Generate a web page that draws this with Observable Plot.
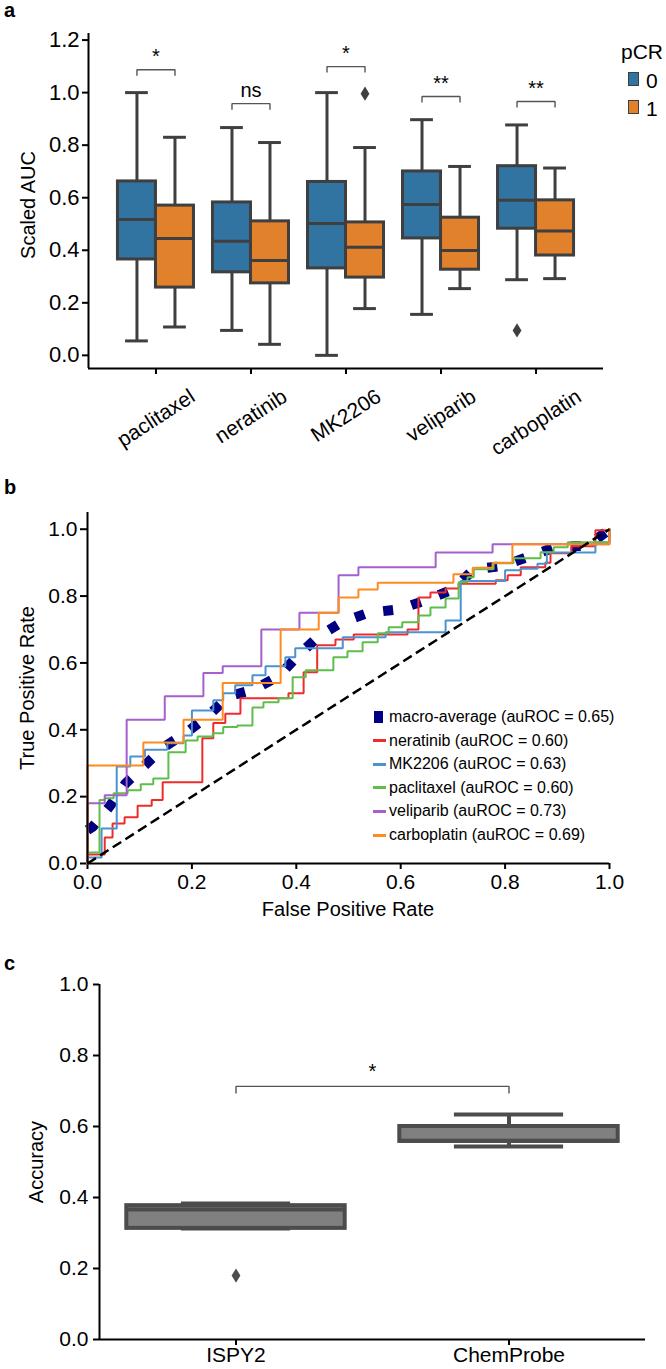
<!DOCTYPE html>
<html><head><meta charset="utf-8">
<script src="https://cdn.jsdelivr.net/npm/d3@7"></script>
<script src="https://cdn.jsdelivr.net/npm/@observablehq/plot@0.6"></script>
<style>
html,body{margin:0;padding:0;background:#fff;}
#root{position:relative;width:666px;height:1369px;overflow:hidden;font-family:"Liberation Sans",Arial,Helvetica,sans-serif;color:#000;background:#fff;}
.abs{position:absolute;white-space:nowrap;line-height:1;}
.panel{position:absolute;left:0;}
.panel svg{overflow:visible;}
.panel [aria-label^="x-axis"] line,.panel [aria-label^="y-axis"] line,.panel [aria-label^="x-axis"] path,.panel [aria-label^="y-axis"] path{stroke-width:2px;stroke:#000;}
</style></head><body><div id="root"></div>
<script>
// ---------- Panel a data ----------
const drugs = ["paclitaxel", "neratinib", "MK2206", "veliparib", "carboplatin"];
const pcrGroups = ["0", "1"];
const pcrColors = ["#3274a1", "#e1812c"];
const p0Low  = [0.055, 0.095, 0.000, 0.156, 0.288];
const p0Q1   = [0.365, 0.316, 0.331, 0.445, 0.482];
const p0Med  = [0.517, 0.434, 0.502, 0.574, 0.590];
const p0Q3   = [0.662, 0.582, 0.660, 0.700, 0.720];
const p0High = [1.000, 0.867, 1.000, 0.897, 0.877];
const p1Low  = [0.108, 0.042, 0.178, 0.254, 0.292];
const p1Q1   = [0.258, 0.274, 0.296, 0.326, 0.380];
const p1Med  = [0.445, 0.361, 0.411, 0.399, 0.473];
const p1Q3   = [0.570, 0.510, 0.506, 0.524, 0.590];
const p1High = [0.830, 0.810, 0.791, 0.719, 0.713];
const outlierDrug  = ["MK2206", "carboplatin"];
const outlierGroup = ["1", "0"];
const outlierValue = [0.996, 0.095];
const sigLabels  = ["*", "ns", "*", "**", "**"];
const sigHeights = [1.087, 0.958, 1.099, 0.985, 0.966];

// ---------- Panel b data ----------
const rocNames  = ["neratinib", "MK2206", "paclitaxel", "veliparib", "carboplatin"];
const rocAuc    = [0.60, 0.63, 0.60, 0.73, 0.69];
const rocColors = ["#ee2c2c", "#4b92d0", "#5dbf4a", "#a65fcc", "#ff8b1f"];
const macroAuc  = 0.65;
const macroFpr = [0, 0.01, 0.042, 0.073, 0.107, 0.148, 0.188, 0.23, 0.27, 0.318, 0.366, 0.402, 0.443, 0.485, 0.538, 0.596, 0.653, 0.70, 0.74, 0.795, 0.849, 0.902, 0.958, 1.0];
const macroTpr = [0.10, 0.11, 0.17, 0.24, 0.29, 0.35, 0.39, 0.44, 0.50, 0.52, 0.56, 0.62, 0.68, 0.72, 0.75, 0.76, 0.79, 0.82, 0.88, 0.89, 0.92, 0.95, 0.95, 1.0];
const neratinibFpr = [0, 0, 0.033, 0.048, 0.071, 0.096, 0.123, 0.144, 0.22, 0.241, 0.264, 0.293, 0.385, 0.414, 0.44, 0.475, 0.51, 0.613, 0.634, 0.657, 0.686, 0.711, 0.782, 0.805, 0.83, 0.877, 0.887, 0.927, 0.973, 1];
const neratinibTpr = [0, 0.027, 0.078, 0.12, 0.138, 0.173, 0.19, 0.243, 0.375, 0.42, 0.448, 0.494, 0.509, 0.572, 0.653, 0.67, 0.685, 0.70, 0.796, 0.811, 0.823, 0.837, 0.847, 0.862, 0.886, 0.90, 0.928, 0.949, 0.997, 1];
const mk2206Fpr = [0, 0, 0.027, 0.056, 0.082, 0.11, 0.153, 0.184, 0.20, 0.241, 0.26, 0.283, 0.316, 0.341, 0.379, 0.398, 0.489, 0.571, 0.686, 0.715, 0.80, 0.83, 0.862, 0.88, 0.973, 1];
const mk2206Tpr = [0, 0.018, 0.105, 0.29, 0.32, 0.34, 0.36, 0.383, 0.458, 0.488, 0.509, 0.533, 0.563, 0.59, 0.617, 0.644, 0.677, 0.692, 0.727, 0.845, 0.877, 0.882, 0.897, 0.93, 0.96, 1];
const paclitaxelFpr = [0, 0, 0.023, 0.033, 0.05, 0.077, 0.102, 0.126, 0.155, 0.188, 0.211, 0.24, 0.26, 0.287, 0.316, 0.337, 0.366, 0.393, 0.418, 0.471, 0.498, 0.527, 0.556, 0.577, 0.603, 0.634, 0.657, 0.686, 0.711, 0.728, 0.74, 0.778, 0.816, 0.868, 0.893, 0.92, 1];
const paclitaxelTpr = [0, 0.033, 0.19, 0.195, 0.21, 0.219, 0.237, 0.254, 0.333, 0.368, 0.38, 0.39, 0.408, 0.413, 0.467, 0.482, 0.494, 0.557, 0.578, 0.617, 0.635, 0.662, 0.689, 0.707, 0.722, 0.742, 0.766, 0.793, 0.841, 0.856, 0.88, 0.898, 0.913, 0.931, 0.946, 0.961, 1];
const veliparibFpr = [0, 0, 0.033, 0.075, 0.148, 0.222, 0.259, 0.333, 0.406, 0.481, 0.519, 0.667, 0.776, 1];
const veliparibTpr = [0, 0.18, 0.204, 0.43, 0.50, 0.57, 0.59, 0.70, 0.75, 0.862, 0.886, 0.93, 0.955, 1];
const carboplatinFpr = [0, 0, 0.107, 0.184, 0.259, 0.37, 0.443, 0.481, 0.519, 0.556, 0.701, 0.738, 0.776, 0.814, 1];
const carboplatinTpr = [0, 0.293, 0.362, 0.43, 0.54, 0.70, 0.75, 0.796, 0.82, 0.84, 0.865, 0.885, 0.90, 0.955, 1];
const chanceLine = [0, 1];

// ---------- Panel c data ----------
const cohorts = ["ISPY2", "ChemProbe"];
const accLow  = [0.313, 0.544];
const accQ1   = [0.313, 0.558];
const accMed  = [0.366, 0.560];
const accQ3   = [0.377, 0.600];
const accHigh = [0.383, 0.634];
const accOutlierCohort = ["ISPY2"];
const accOutlierValue  = [0.18];
const accSigLabel  = ["*"];
const accSigHeight = [0.713];

// ---------- helpers ----------
const FONT = '"Liberation Sans", Arial, Helvetica, sans-serif';
const root = document.getElementById("root");
function addText(txt, x, y, o = {}) {
  const d = document.createElement("div");
  d.className = "abs";
  d.textContent = txt;
  d.style.fontSize = (o.size || 20) + "px";
  if (o.weight) d.style.fontWeight = o.weight;
  d.style.left = x + "px";
  d.style.top = y + "px";
  const tx = o.anchor === "middle" ? "-50%" : "0";
  d.style.transform = `translate(${tx},-50%)` + (o.rotate ? ` rotate(${o.rotate}deg)` : "");
  root.appendChild(d);
  return d;
}
function addPanel(svg, top) {
  const d = document.createElement("div");
  d.className = "panel";
  d.style.top = top + "px";
  d.appendChild(svg);
  root.appendChild(d);
}
const thinDiamond = {
  draw(context, size) {
    const h = Math.sqrt(size), w = h * 0.62;
    context.moveTo(0, -h); context.lineTo(w, 0); context.lineTo(0, h); context.lineTo(-w, 0); context.closePath();
  }
};
const measure = document.createElement("canvas").getContext("2d");

// ================= Panel a =================
{
  const EDGE = "#3f3f3f";
  const H = 480, mT = 33, mB = 112, mL = 88, mR = 63;
  const yDom = [-0.05, 1.225], xDom = [-0.71, 4.71];
  const pxPerY = (H - mT - mB) / (yDom[1] - yDom[0]);
  const boxHalf = 0.2, capHalf = 0.12, off = 0.2;
  const lows = [p0Low, p1Low], q1s = [p0Q1, p1Q1], meds = [p0Med, p1Med], q3s = [p0Q3, p1Q3], highs = [p0High, p1High];
  const boxes = [];
  pcrGroups.forEach((g, gi) => drugs.forEach((d, i) => boxes.push({
    drug: d, g, x: i + (gi === 0 ? -off : off),
    low: lows[gi][i], q1: q1s[gi][i], med: meds[gi][i], q3: q3s[gi][i], high: highs[gi][i]
  })));
  const outliers = outlierDrug.map((d, k) => ({x: drugs.indexOf(d) + (outlierGroup[k] === "0" ? -off : off), y: outlierValue[k]}));
  const tick = 6 / pxPerY;
  const brackets = [];
  drugs.forEach((d, i) => {
    const h = sigHeights[i];
    [[i - off, h - tick], [i - off, h], [i + off, h], [i + off, h - tick]].forEach(([x, y]) => brackets.push({k: d, x, y}));
  });
  const sig = drugs.map((d, i) => ({x: i, y: sigHeights[i], t: sigLabels[i]}));
  const rot = 33, rad = rot * Math.PI / 180, LF = 21;
  measure.font = `${LF}px ${FONT}`;
  const labelMarks = drugs.map((d, i) => {
    const L = measure.measureText(d).width;
    const dy = 18 + (L * Math.sin(rad) + 0.9 * LF * Math.cos(rad)) / 2;
    return Plot.text([{i, d}], {x: "i", text: "d", frameAnchor: "bottom", dy, rotate: -rot, textAnchor: "middle", lineAnchor: "middle", fontSize: LF, fill: "#000"});
  });
  const svgA = Plot.plot({
    width: 666, height: H, marginLeft: mL, marginRight: mR, marginTop: mT, marginBottom: mB,
    style: {fontFamily: FONT, fontSize: "22px", background: "transparent", overflow: "visible", color: "#000"},
    x: {type: "linear", domain: xDom, ticks: [0, 1, 2, 3, 4], tickFormat: () => "", tickSize: 6, label: null},
    y: {domain: yDom, ticks: [0, 0.2, 0.4, 0.6, 0.8, 1.0, 1.2], tickFormat: d3.format(".1f"), tickSize: 6, tickPadding: 3, label: null},
    color: {domain: pcrGroups, range: pcrColors},
    marks: [
      Plot.ruleX(boxes, {x: "x", y1: "low", y2: "high", stroke: EDGE, strokeWidth: 3}),
      Plot.ruleY(boxes, {y: "high", x1: d => d.x - capHalf, x2: d => d.x + capHalf, stroke: EDGE, strokeWidth: 3}),
      Plot.ruleY(boxes, {y: "low", x1: d => d.x - capHalf, x2: d => d.x + capHalf, stroke: EDGE, strokeWidth: 3}),
      Plot.rect(boxes, {x1: d => d.x - boxHalf, x2: d => d.x + boxHalf, y1: "q1", y2: "q3", fill: "g", stroke: EDGE, strokeWidth: 3}),
      Plot.ruleY(boxes, {y: "med", x1: d => d.x - boxHalf, x2: d => d.x + boxHalf, stroke: EDGE, strokeWidth: 3}),
      Plot.dot(outliers, {x: "x", y: "y", symbol: thinDiamond, r: 4, fill: EDGE, stroke: "none"}),
      Plot.line(brackets, {x: "x", y: "y", z: "k", stroke: "#555", strokeWidth: 1.4, strokeLinejoin: "miter", strokeLinecap: "butt"}),
      Plot.text(sig, {x: "x", y: "y", text: "t", dy: -7, lineAnchor: "bottom", fontSize: 20, fill: "#000"}),
      Plot.ruleX([xDom[0]], {stroke: "#000", strokeWidth: 2}),
      Plot.ruleY([yDom[0]], {stroke: "#000", strokeWidth: 2}),
      ...labelMarks
    ]
  });
  addPanel(svgA, 0);
  addText("a", 4, 10, {size: 20, weight: "bold"});
  addText("Scaled AUC", 28, 205, {anchor: "middle", rotate: -90});
  // legend
  addText("pCR", 621, 51, {size: 21});
  pcrGroups.forEach((g, k) => {
    const sw = document.createElement("div");
    sw.style.cssText = `position:absolute;left:628px;top:${72 + k * 28}px;width:9px;height:12px;background:${pcrColors[k]};border:1.5px solid #3f3f3f;`;
    root.appendChild(sw);
    addText(g, 646, 79.5 + k * 28, {size: 21});
  });
}

// ================= Panel b =================
{
  const H = 480;
  const curves = [
    [neratinibFpr, neratinibTpr], [mk2206Fpr, mk2206Tpr], [paclitaxelFpr, paclitaxelTpr],
    [veliparibFpr, veliparibTpr], [carboplatinFpr, carboplatinTpr]
  ];
  const macro = macroFpr.map((f, i) => ({fpr: f, tpr: macroTpr[i]}));
  const curveMarks = curves.map(([F, T], k) =>
    Plot.line(F.map((f, i) => ({fpr: f, tpr: T[i]})), {x: "fpr", y: "tpr", curve: "step-after", stroke: rocColors[k], strokeWidth: 2, strokeLinejoin: "miter"}));
  const svgB = Plot.plot({
    width: 666, height: H, marginLeft: 87, marginRight: 57, marginTop: 32, marginBottom: 97,
    style: {fontFamily: FONT, fontSize: "21px", background: "transparent", overflow: "visible", color: "#000"},
    x: {domain: [0, 1], ticks: [0, 0.2, 0.4, 0.6, 0.8, 1.0], tickFormat: d3.format(".1f"), tickSize: 6, tickPadding: 5, label: null},
    y: {domain: [0, 1.05], ticks: [0, 0.2, 0.4, 0.6, 0.8, 1.0], tickFormat: d3.format(".1f"), tickSize: 7, tickPadding: 3, label: null},
    marks: [
      Plot.line(macro, {x: "fpr", y: "tpr", stroke: "navy", strokeWidth: 10, strokeDasharray: "10,19", strokeLinecap: "butt", strokeLinejoin: "miter"}),
      ...curveMarks,
      Plot.line(chanceLine, {x: d => d, y: d => d, stroke: "#000", strokeWidth: 2.5, strokeDasharray: "10,5", strokeLinecap: "butt"}),
      Plot.ruleX([0], {stroke: "#000", strokeWidth: 2}),
      Plot.ruleY([0], {stroke: "#000", strokeWidth: 2})
    ]
  });
  addPanel(svgB, 480);
  addText("b", 4, 487, {size: 20, weight: "bold"});
  addText("True Positive Rate", 27, 688, {anchor: "middle", rotate: -90});
  addText("False Positive Rate", 348, 909, {anchor: "middle"});
  // legend
  const rowY0 = 717, rowStep = 23.6;
  const entries = [{label: `macro-average (auROC = ${macroAuc.toFixed(2)})`, color: "navy", macro: true}]
    .concat(rocNames.map((n, k) => ({label: `${n} (auROC = ${rocAuc[k].toFixed(2)})`, color: rocColors[k]})));
  entries.forEach((e, k) => {
    const cy = rowY0 + k * rowStep;
    const h = document.createElement("div");
    if (e.macro) h.style.cssText = `position:absolute;left:374px;top:${cy - 6}px;width:9px;height:12px;background:${e.color};`;
    else h.style.cssText = `position:absolute;left:373px;top:${cy - 1.5}px;width:13px;height:3px;background:${e.color};`;
    root.appendChild(h);
    addText(e.label, 389, cy, {size: 16});
  });
}

// ================= Panel c =================
{
  const EDGE = "#4c4c4c";
  const H = 409, mT = 24, mB = 30;
  const pxPerY = H - mT - mB;
  const boxHalf = 0.4, capHalf = 0.2;
  const boxes = cohorts.map((c, i) => ({x: i, low: accLow[i], q1: accQ1[i], med: accMed[i], q3: accQ3[i], high: accHigh[i]}));
  const outs = accOutlierCohort.map((c, k) => ({x: cohorts.indexOf(c), y: accOutlierValue[k]}));
  const tick = 7 / pxPerY;
  const br = [[0, accSigHeight[0] - tick], [0, accSigHeight[0]], [1, accSigHeight[0]], [1, accSigHeight[0] - tick]].map(([x, y]) => ({x, y}));
  const svgC = Plot.plot({
    width: 666, height: H, marginLeft: 99, marginRight: 21, marginTop: mT, marginBottom: mB,
    style: {fontFamily: FONT, fontSize: "21px", background: "transparent", overflow: "visible", color: "#000"},
    x: {type: "linear", domain: [-0.5, 1.5], ticks: [0, 1], tickFormat: i => cohorts[i], tickSize: 6, tickPadding: 2, label: null},
    y: {domain: [0, 1], ticks: [0, 0.2, 0.4, 0.6, 0.8, 1.0], tickFormat: d3.format(".1f"), tickSize: 6, tickPadding: 5, label: null},
    marks: [
      Plot.ruleX(boxes, {x: "x", y1: "low", y2: "high", stroke: EDGE, strokeWidth: 4}),
      Plot.ruleY(boxes, {y: "high", x1: d => d.x - capHalf, x2: d => d.x + capHalf, stroke: EDGE, strokeWidth: 4}),
      Plot.ruleY(boxes, {y: "low", x1: d => d.x - capHalf, x2: d => d.x + capHalf, stroke: EDGE, strokeWidth: 4}),
      Plot.rect(boxes, {x1: d => d.x - boxHalf, x2: d => d.x + boxHalf, y1: "q1", y2: "q3", fill: "#808080", stroke: EDGE, strokeWidth: 4}),
      Plot.ruleY(boxes, {y: "med", x1: d => d.x - boxHalf, x2: d => d.x + boxHalf, stroke: EDGE, strokeWidth: 4}),
      Plot.dot(outs, {x: "x", y: "y", symbol: thinDiamond, r: 4, fill: EDGE, stroke: "none"}),
      Plot.line(br, {x: "x", y: "y", stroke: "#555", strokeWidth: 1.4, strokeLinejoin: "miter", strokeLinecap: "butt"}),
      Plot.text([{x: 0.5, y: accSigHeight[0], t: accSigLabel[0]}], {x: "x", y: "y", text: "t", dy: -8, lineAnchor: "bottom", fontSize: 20, fill: "#000"}),
      Plot.ruleX([-0.5], {stroke: "#000", strokeWidth: 2}),
      Plot.ruleY([0], {stroke: "#000", strokeWidth: 2})
    ]
  });
  addPanel(svgC, 960);
  addText("c", 4, 963, {size: 20, weight: "bold"});
  addText("Accuracy", 36, 1162, {anchor: "middle", rotate: -90});
}
</script></body></html>
